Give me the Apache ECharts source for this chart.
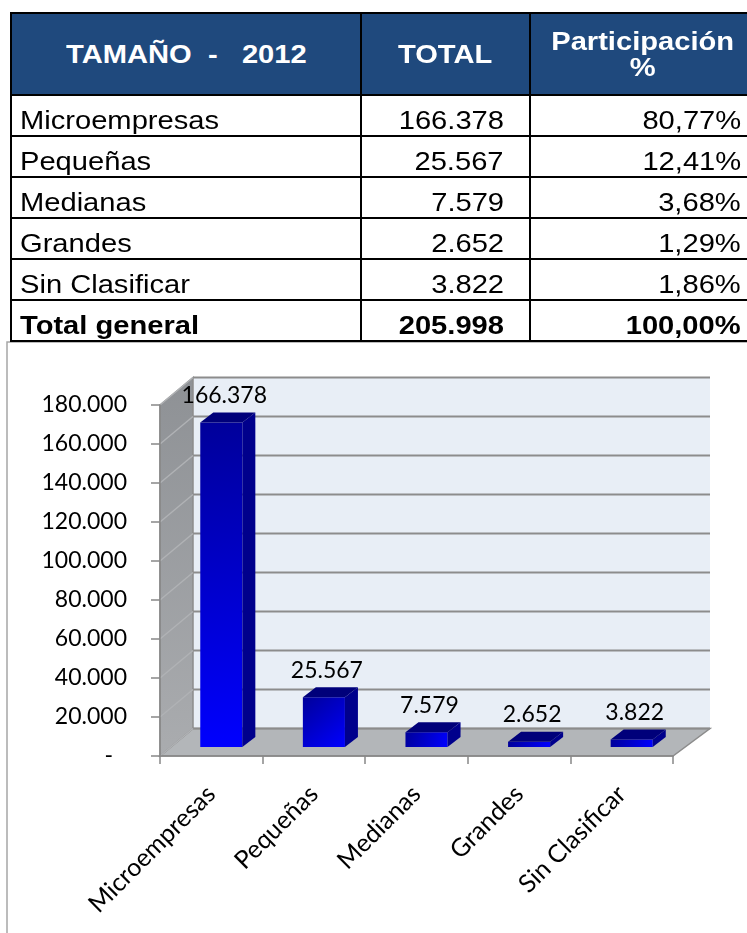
<!DOCTYPE html>
<html>
<head>
<meta charset="utf-8">
<script src="https://cdn.jsdelivr.net/npm/echarts@6/dist/echarts.min.js"></script>
<style>
html,body{margin:0;padding:0;background:#fff;width:747px;height:933px;overflow:hidden;}
#chart{position:absolute;left:0;top:0;width:747px;height:933px;}
#tbl{position:absolute;left:10px;top:12px;width:744px;border-collapse:collapse;table-layout:fixed;font-family:"Liberation Sans",Arial,sans-serif;}
#tbl td,#tbl th{border:2px solid #000;padding:0;overflow:hidden;white-space:pre;}
#tbl th{background:#1f497d;color:#fff;font-weight:bold;font-size:26px;line-height:26px;text-align:center;vertical-align:middle;}
#tbl td{font-size:26px;line-height:30px;color:#000;vertical-align:bottom;}
#tbl tr.h{height:82px;}
#tbl tr.r{height:41px;}
.s{display:inline-block;transform:scaleX(1.12);}
.l{text-align:left;padding-left:8px !important;}
.l .s{transform-origin:left center;}
.c2{text-align:right;padding-right:25px !important;}
.c3{text-align:right;padding-right:13px !important;}
.c2 .s,.c3 .s{transform-origin:right center;}
th .s{transform-origin:center center;}
.b{font-weight:bold;}
</style>
</head>
<body>
<div id="chart"></div>
<table id="tbl">
<colgroup><col style="width:350px"><col style="width:169px"><col style="width:225px"></colgroup>
<tbody id="tb"></tbody>
</table>
<script>
// ---- data ----
const headers = ['TAMAÑO  -   2012', 'TOTAL', 'Participación\n%'];
const categories = ['Microempresas', 'Pequeñas', 'Medianas', 'Grandes', 'Sin Clasificar'];
const totals = [166378, 25567, 7579, 2652, 3822];
const shares = ['80,77%', '12,41%', '3,68%', '1,29%', '1,86%'];
const totalRowLabel = 'Total general';
const grandTotal = 205998;
const grandShare = '100,00%';
const yTicks = [0, 20000, 40000, 60000, 80000, 100000, 120000, 140000, 160000, 180000];

function fmt(n) { return String(n).replace(/\B(?=(\d{3})+(?!\d))/g, '.'); }

// ---- table ----
const tb = document.getElementById('tb');
let html = '<tr class="h">' + headers.map(h => '<th><span class="s">' + h.replace('\n', '<br>') + '</span></th>').join('') + '</tr>';
categories.forEach((c, i) => {
  html += '<tr class="r"><td class="l"><span class="s">' + c + '</span></td><td class="c2"><span class="s">' + fmt(totals[i]) +
    '</span></td><td class="c3"><span class="s">' + shares[i] + '</span></td></tr>';
});
html += '<tr class="r b"><td class="l"><span class="s">' + totalRowLabel + '</span></td><td class="c2"><span class="s">' + fmt(grandTotal) +
  '</span></td><td class="c3"><span class="s">' + grandShare + '</span></td></tr>';
tb.innerHTML = html;

// ---- chart ----
const chart = echarts.init(document.getElementById('chart'));
const FONT = 'Lato, "Open Sans", sans-serif';
const DXL = 33, DXR = 37, DY = -27.5;

const option = {
  animation: false,
  graphic: [{
    type: 'rect', z: 0,
    shape: { x: 7, y: 342, width: 800, height: 700 },
    style: { fill: '#fff', stroke: '#a6a6a6', lineWidth: 1.5 }
  }],
  grid: { left: 160, top: 405, right: 74, bottom: 177, show: false },
  xAxis: {
    type: 'category', data: categories, z: 5,
    axisLine: { show: true, lineStyle: { color: '#888', width: 1.5 } },
    axisTick: { show: true, length: 8, lineStyle: { color: '#888', width: 1.5 } },
    axisLabel: { rotate: 45, margin: 34, color: '#000', fontFamily: FONT, fontSize: 25, interval: 0 },
    splitLine: { show: false }
  },
  yAxis: {
    type: 'value', min: 0, max: 180000, interval: 20000, z: 5,
    axisLine: { show: true, lineStyle: { color: '#888', width: 1.5 } },
    axisTick: { show: true, length: 9, lineStyle: { color: '#888', width: 1.5 } },
    splitLine: { show: false },
    axisLabel: {
      margin: 33, color: '#000', fontFamily: FONT, fontSize: 23,
      formatter: v => v === 0 ? '{d|-}' : fmt(v),
      rich: { d: { fontFamily: FONT, fontSize: 23, color: '#000', padding: [0, 14, 0, 0] } }
    }
  },
  series: [{
    type: 'custom', silent: true, z: 1,
    data: [0],
    renderItem: function (params, api) {
      const cs = params.coordSys;
      const x0 = cs.x, x1 = cs.x + cs.width, yt = cs.y, yb = cs.y + cs.height;
      const ch = [];
      ch.push({ type: 'polygon', shape: { points: [[x0 + DXL, yt + DY], [x1 + DXR, yt + DY], [x1 + DXR, yb + DY], [x0 + DXL, yb + DY]] },
        style: { fill: '#e8eef6' } });
      ch.push({ type: 'polygon', shape: { points: [[x0, yb], [x0 + DXL, yb + DY], [x1 + DXR, yb + DY], [x1, yb]] },
        style: { fill: '#b3b6b9', stroke: '#8c8c8c', lineWidth: 1.5 } });
      ch.push({ type: 'polygon', shape: { points: [[x0, yt], [x0 + DXL, yt + DY], [x0 + DXL, yb + DY], [x0, yb]] },
        style: { fill: new echarts.graphic.LinearGradient(0, 0, 0, 1, [{ offset: 0, color: '#8e9195' }, { offset: 1, color: '#aaacaf' }]),
          stroke: '#8c8c8c', lineWidth: 1.5 } });
      yTicks.forEach(v => {
        const y = api.coord([0, v])[1];
        ch.push({ type: 'line', shape: { x1: x0 + DXL, y1: y + DY, x2: x1 + DXR, y2: y + DY }, style: { stroke: '#8c8c8c', lineWidth: 2 } });
        ch.push({ type: 'line', shape: { x1: x0, y1: y, x2: x0 + DXL, y2: y + DY }, style: { stroke: '#b0b2b5', lineWidth: 1.5 } });
      });
      return { type: 'group', children: ch };
    }
  }, {
    type: 'custom', z: 3,
    data: totals.map((v, i) => [i, v]),
    encode: { x: 0, y: 1 },
    renderItem: function (params, api) {
      const i = api.value(0), v = api.value(1);
      const base = api.coord([i, 0]), top = api.coord([i, v]);
      const band = api.size([1, 0])[0];
      const w = band * 0.41;
      const sx = 10, sy = -9, bx = 13, by = -10;
      const l = base[0] + sx - w / 2, r = l + w, yb = base[1] + sy, ytp = top[1] + sy;
      return {
        type: 'group', children: [
          { type: 'polygon', shape: { points: [[l, ytp], [r, ytp], [r, yb], [l, yb]] },
            style: { fill: new echarts.graphic.LinearGradient(0, 0, 1, 1, [{ offset: 0, color: '#00009a' }, { offset: 1, color: '#0000ff' }]) } },
          { type: 'polygon', shape: { points: [[r, ytp], [r + bx, ytp + by], [r + bx, yb + by], [r, yb]] },
            style: { fill: '#00008c' } },
          { type: 'polygon', shape: { points: [[l, ytp], [l + bx, ytp + by], [r + bx, ytp + by], [r, ytp]] },
            style: { fill: '#00007a' } },
          { type: 'text', x: (l + r) / 2 + 3, y: ytp + by - 17,
            style: { text: fmt(v), fill: '#000', font: '23px ' + FONT, align: 'center', verticalAlign: 'middle' } }
        ]
      };
    }
  }]
};
chart.setOption(option);
</script>
</body>
</html>
